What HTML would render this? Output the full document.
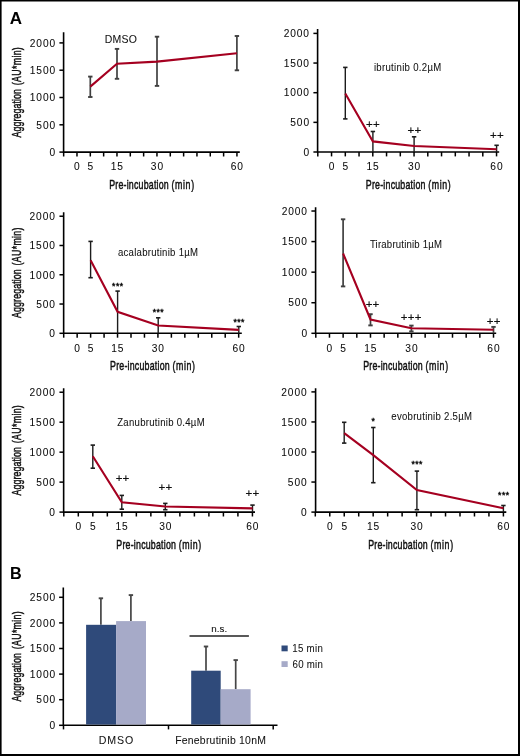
<!DOCTYPE html>
<html><head><meta charset="utf-8"><title>Figure</title>
<style>
html,body{margin:0;padding:0;background:#fff;}
body{width:520px;height:756px;overflow:hidden;}
svg{display:block;font-family:"Liberation Sans",sans-serif;}
text{filter:grayscale(1);}
</style></head><body>
<svg width="520" height="756" viewBox="0 0 520 756">
<rect x="0" y="0" width="520" height="756" fill="#fff"/>
<path d="M63.6 32.2V152.1H239.8" fill="none" stroke="#000" stroke-width="1.6"/>
<line x1="59.4" y1="152.1" x2="63.6" y2="152.1" stroke="#000" stroke-width="1.5"/>
<text x="49.5" y="155.85" font-size="10.2" letter-spacing="0.9" fill="#0a0a0a" stroke="#0a0a0a" stroke-width="0.06">0</text>
<line x1="59.4" y1="124.8" x2="63.6" y2="124.8" stroke="#000" stroke-width="1.5"/>
<text x="36.37" y="128.55" font-size="10.2" letter-spacing="0.9" fill="#0a0a0a" stroke="#0a0a0a" stroke-width="0.06">500</text>
<line x1="59.4" y1="97.5" x2="63.6" y2="97.5" stroke="#000" stroke-width="1.5"/>
<text x="29.76" y="101.25" font-size="10.2" letter-spacing="0.9" fill="#0a0a0a" stroke="#0a0a0a" stroke-width="0.06">1000</text>
<line x1="59.4" y1="70.2" x2="63.6" y2="70.2" stroke="#000" stroke-width="1.5"/>
<text x="29.76" y="73.95" font-size="10.2" letter-spacing="0.9" fill="#0a0a0a" stroke="#0a0a0a" stroke-width="0.06">1500</text>
<line x1="59.4" y1="42.9" x2="63.6" y2="42.9" stroke="#000" stroke-width="1.5"/>
<text x="29.76" y="46.65" font-size="10.2" letter-spacing="0.9" fill="#0a0a0a" stroke="#0a0a0a" stroke-width="0.06">2000</text>
<line x1="63.65" y1="152.1" x2="63.65" y2="156.5" stroke="#000" stroke-width="1.5"/>
<line x1="76.98" y1="152.1" x2="76.98" y2="156.5" stroke="#000" stroke-width="1.5"/>
<line x1="90.31" y1="152.1" x2="90.31" y2="156.5" stroke="#000" stroke-width="1.5"/>
<line x1="103.64" y1="152.1" x2="103.64" y2="156.5" stroke="#000" stroke-width="1.5"/>
<line x1="116.97" y1="152.1" x2="116.97" y2="156.5" stroke="#000" stroke-width="1.5"/>
<line x1="130.3" y1="152.1" x2="130.3" y2="156.5" stroke="#000" stroke-width="1.5"/>
<line x1="143.63" y1="152.1" x2="143.63" y2="156.5" stroke="#000" stroke-width="1.5"/>
<line x1="156.96" y1="152.1" x2="156.96" y2="156.5" stroke="#000" stroke-width="1.5"/>
<line x1="170.29" y1="152.1" x2="170.29" y2="156.5" stroke="#000" stroke-width="1.5"/>
<line x1="183.62" y1="152.1" x2="183.62" y2="156.5" stroke="#000" stroke-width="1.5"/>
<line x1="196.95" y1="152.1" x2="196.95" y2="156.5" stroke="#000" stroke-width="1.5"/>
<line x1="210.28" y1="152.1" x2="210.28" y2="156.5" stroke="#000" stroke-width="1.5"/>
<line x1="223.61" y1="152.1" x2="223.61" y2="156.5" stroke="#000" stroke-width="1.5"/>
<line x1="236.94" y1="152.1" x2="236.94" y2="156.5" stroke="#000" stroke-width="1.5"/>
<text x="74.12" y="170.3" font-size="10.2" letter-spacing="0.9" fill="#0a0a0a" stroke="#0a0a0a" stroke-width="0.06">0</text>
<text x="87.48" y="170.3" font-size="10.2" letter-spacing="0.9" fill="#0a0a0a" stroke="#0a0a0a" stroke-width="0.06">5</text>
<text x="110.68" y="170.3" font-size="10.2" letter-spacing="0.9" fill="#0a0a0a" stroke="#0a0a0a" stroke-width="0.06">15</text>
<text x="150.82" y="170.3" font-size="10.2" letter-spacing="0.9" fill="#0a0a0a" stroke="#0a0a0a" stroke-width="0.06">30</text>
<text x="230.75" y="170.3" font-size="10.2" letter-spacing="0.9" fill="#0a0a0a" stroke="#0a0a0a" stroke-width="0.06">60</text>
<text transform="translate(109.14 188.6) scale(0.6800 1)" font-size="13" letter-spacing="0.3" fill="#111" stroke="#111" stroke-width="0.5">Pre-incubation</text>
<text transform="translate(171.52 188.6) scale(0.6800 1)" font-size="13" letter-spacing="0.9" fill="#111" stroke="#111" stroke-width="0.5">(min)</text>
<line x1="90.3" y1="76.6" x2="90.3" y2="97" stroke="#404040" stroke-width="1.7"/>
<line x1="88.1" y1="76.6" x2="92.5" y2="76.6" stroke="#404040" stroke-width="1.9"/>
<line x1="88.1" y1="97" x2="92.5" y2="97" stroke="#404040" stroke-width="1.9"/>
<line x1="117" y1="48.9" x2="117" y2="78.8" stroke="#404040" stroke-width="1.7"/>
<line x1="114.8" y1="48.9" x2="119.2" y2="48.9" stroke="#404040" stroke-width="1.9"/>
<line x1="114.8" y1="78.8" x2="119.2" y2="78.8" stroke="#404040" stroke-width="1.9"/>
<line x1="157" y1="36.7" x2="157" y2="85.9" stroke="#404040" stroke-width="1.7"/>
<line x1="154.8" y1="36.7" x2="159.2" y2="36.7" stroke="#404040" stroke-width="1.9"/>
<line x1="154.8" y1="85.9" x2="159.2" y2="85.9" stroke="#404040" stroke-width="1.9"/>
<line x1="236.9" y1="36" x2="236.9" y2="70.3" stroke="#404040" stroke-width="1.7"/>
<line x1="234.7" y1="36" x2="239.1" y2="36" stroke="#404040" stroke-width="1.9"/>
<line x1="234.7" y1="70.3" x2="239.1" y2="70.3" stroke="#404040" stroke-width="1.9"/>
<path d="M90.3 86.6 L117 63.8 L157 61.6 L236.9 53.3" fill="none" stroke="#a50020" stroke-width="2.1" stroke-linejoin="miter"/>
<text transform="translate(104.86 42.75) scale(1.0300 1)" font-size="10.2" letter-spacing="0.18" fill="#111" stroke="#111" stroke-width="0.06">DMSO</text>
<text transform="translate(21.1 137.4) rotate(-90) scale(0.6800 1)" font-size="13" fill="#111" stroke="#111" stroke-width="0.5" letter-spacing="0.11">Aggregation</text>
<text transform="translate(21.1 85.13) rotate(-90) scale(0.6800 1)" font-size="13" fill="#111" stroke="#111" stroke-width="0.5" letter-spacing="0.44">(AU*min)</text>
<path d="M317.6 29V152H499.2" fill="none" stroke="#000" stroke-width="1.6"/>
<line x1="313.4" y1="152" x2="317.6" y2="152" stroke="#000" stroke-width="1.5"/>
<text x="303.4" y="155.75" font-size="10.2" letter-spacing="0.9" fill="#0a0a0a" stroke="#0a0a0a" stroke-width="0.06">0</text>
<line x1="313.4" y1="122.35" x2="317.6" y2="122.35" stroke="#000" stroke-width="1.5"/>
<text x="290.27" y="126.1" font-size="10.2" letter-spacing="0.9" fill="#0a0a0a" stroke="#0a0a0a" stroke-width="0.06">500</text>
<line x1="313.4" y1="92.7" x2="317.6" y2="92.7" stroke="#000" stroke-width="1.5"/>
<text x="283.66" y="96.45" font-size="10.2" letter-spacing="0.9" fill="#0a0a0a" stroke="#0a0a0a" stroke-width="0.06">1000</text>
<line x1="313.4" y1="63.05" x2="317.6" y2="63.05" stroke="#000" stroke-width="1.5"/>
<text x="283.66" y="66.8" font-size="10.2" letter-spacing="0.9" fill="#0a0a0a" stroke="#0a0a0a" stroke-width="0.06">1500</text>
<line x1="313.4" y1="33.4" x2="317.6" y2="33.4" stroke="#000" stroke-width="1.5"/>
<text x="283.66" y="37.15" font-size="10.2" letter-spacing="0.9" fill="#0a0a0a" stroke="#0a0a0a" stroke-width="0.06">2000</text>
<line x1="317.8" y1="152" x2="317.8" y2="156.4" stroke="#000" stroke-width="1.5"/>
<line x1="331.55" y1="152" x2="331.55" y2="156.4" stroke="#000" stroke-width="1.5"/>
<line x1="345.3" y1="152" x2="345.3" y2="156.4" stroke="#000" stroke-width="1.5"/>
<line x1="359.05" y1="152" x2="359.05" y2="156.4" stroke="#000" stroke-width="1.5"/>
<line x1="372.8" y1="152" x2="372.8" y2="156.4" stroke="#000" stroke-width="1.5"/>
<line x1="386.55" y1="152" x2="386.55" y2="156.4" stroke="#000" stroke-width="1.5"/>
<line x1="400.3" y1="152" x2="400.3" y2="156.4" stroke="#000" stroke-width="1.5"/>
<line x1="414.05" y1="152" x2="414.05" y2="156.4" stroke="#000" stroke-width="1.5"/>
<line x1="427.8" y1="152" x2="427.8" y2="156.4" stroke="#000" stroke-width="1.5"/>
<line x1="441.55" y1="152" x2="441.55" y2="156.4" stroke="#000" stroke-width="1.5"/>
<line x1="455.3" y1="152" x2="455.3" y2="156.4" stroke="#000" stroke-width="1.5"/>
<line x1="469.05" y1="152" x2="469.05" y2="156.4" stroke="#000" stroke-width="1.5"/>
<line x1="482.8" y1="152" x2="482.8" y2="156.4" stroke="#000" stroke-width="1.5"/>
<line x1="496.55" y1="152" x2="496.55" y2="156.4" stroke="#000" stroke-width="1.5"/>
<text x="328.69" y="170.2" font-size="10.2" letter-spacing="0.9" fill="#0a0a0a" stroke="#0a0a0a" stroke-width="0.06">0</text>
<text x="342.47" y="170.2" font-size="10.2" letter-spacing="0.9" fill="#0a0a0a" stroke="#0a0a0a" stroke-width="0.06">5</text>
<text x="366.51" y="170.2" font-size="10.2" letter-spacing="0.9" fill="#0a0a0a" stroke="#0a0a0a" stroke-width="0.06">15</text>
<text x="407.91" y="170.2" font-size="10.2" letter-spacing="0.9" fill="#0a0a0a" stroke="#0a0a0a" stroke-width="0.06">30</text>
<text x="490.36" y="170.2" font-size="10.2" letter-spacing="0.9" fill="#0a0a0a" stroke="#0a0a0a" stroke-width="0.06">60</text>
<text transform="translate(365.84 188.5) scale(0.6800 1)" font-size="13" letter-spacing="0.3" fill="#111" stroke="#111" stroke-width="0.5">Pre-incubation</text>
<text transform="translate(428.22 188.5) scale(0.6800 1)" font-size="13" letter-spacing="0.9" fill="#111" stroke="#111" stroke-width="0.5">(min)</text>
<line x1="345.3" y1="67.4" x2="345.3" y2="118.9" stroke="#1c1c1c" stroke-width="1.4"/>
<line x1="343.1" y1="67.4" x2="347.5" y2="67.4" stroke="#1c1c1c" stroke-width="1.6"/>
<line x1="343.1" y1="118.9" x2="347.5" y2="118.9" stroke="#1c1c1c" stroke-width="1.6"/>
<line x1="372.9" y1="131.5" x2="372.9" y2="152" stroke="#1c1c1c" stroke-width="1.4"/>
<line x1="370.7" y1="131.5" x2="375.1" y2="131.5" stroke="#1c1c1c" stroke-width="1.6"/>
<line x1="414.1" y1="136.8" x2="414.1" y2="152" stroke="#1c1c1c" stroke-width="1.4"/>
<line x1="411.9" y1="136.8" x2="416.3" y2="136.8" stroke="#1c1c1c" stroke-width="1.6"/>
<line x1="496.6" y1="145.3" x2="496.6" y2="152" stroke="#1c1c1c" stroke-width="1.4"/>
<line x1="494.4" y1="145.3" x2="498.8" y2="145.3" stroke="#1c1c1c" stroke-width="1.6"/>
<path d="M345.3 93.4 L372.9 141.4 L414.1 146 L496.6 149.3" fill="none" stroke="#a50020" stroke-width="2.1" stroke-linejoin="miter"/>
<text transform="translate(373.88 71.25) scale(0.9400 1)" font-size="10.2" letter-spacing="0.34" fill="#111" stroke="#111" stroke-width="0.06">ibrutinib 0.2µM</text>
<text x="366.03" y="127.95" font-size="11.5" letter-spacing="0.28" fill="#111" stroke="#111" stroke-width="0.2">++</text>
<text x="407.53" y="134.45" font-size="11.5" letter-spacing="0.28" fill="#111" stroke="#111" stroke-width="0.2">++</text>
<text x="490.03" y="139.05" font-size="11.5" letter-spacing="0.28" fill="#111" stroke="#111" stroke-width="0.2">++</text>
<path d="M63.65 212.2V333.3H241.8" fill="none" stroke="#000" stroke-width="1.6"/>
<line x1="59.45" y1="333.3" x2="63.65" y2="333.3" stroke="#000" stroke-width="1.5"/>
<text x="49.3" y="337.05" font-size="10.2" letter-spacing="0.9" fill="#0a0a0a" stroke="#0a0a0a" stroke-width="0.06">0</text>
<line x1="59.45" y1="304.03" x2="63.65" y2="304.03" stroke="#000" stroke-width="1.5"/>
<text x="36.17" y="307.78" font-size="10.2" letter-spacing="0.9" fill="#0a0a0a" stroke="#0a0a0a" stroke-width="0.06">500</text>
<line x1="59.45" y1="274.76" x2="63.65" y2="274.76" stroke="#000" stroke-width="1.5"/>
<text x="29.56" y="278.51" font-size="10.2" letter-spacing="0.9" fill="#0a0a0a" stroke="#0a0a0a" stroke-width="0.06">1000</text>
<line x1="59.45" y1="245.49" x2="63.65" y2="245.49" stroke="#000" stroke-width="1.5"/>
<text x="29.56" y="249.24" font-size="10.2" letter-spacing="0.9" fill="#0a0a0a" stroke="#0a0a0a" stroke-width="0.06">1500</text>
<line x1="59.45" y1="216.22" x2="63.65" y2="216.22" stroke="#000" stroke-width="1.5"/>
<text x="29.56" y="219.97" font-size="10.2" letter-spacing="0.9" fill="#0a0a0a" stroke="#0a0a0a" stroke-width="0.06">2000</text>
<line x1="63.7" y1="333.3" x2="63.7" y2="337.7" stroke="#000" stroke-width="1.5"/>
<line x1="77.16" y1="333.3" x2="77.16" y2="337.7" stroke="#000" stroke-width="1.5"/>
<line x1="90.62" y1="333.3" x2="90.62" y2="337.7" stroke="#000" stroke-width="1.5"/>
<line x1="104.08" y1="333.3" x2="104.08" y2="337.7" stroke="#000" stroke-width="1.5"/>
<line x1="117.54" y1="333.3" x2="117.54" y2="337.7" stroke="#000" stroke-width="1.5"/>
<line x1="131" y1="333.3" x2="131" y2="337.7" stroke="#000" stroke-width="1.5"/>
<line x1="144.46" y1="333.3" x2="144.46" y2="337.7" stroke="#000" stroke-width="1.5"/>
<line x1="157.92" y1="333.3" x2="157.92" y2="337.7" stroke="#000" stroke-width="1.5"/>
<line x1="171.38" y1="333.3" x2="171.38" y2="337.7" stroke="#000" stroke-width="1.5"/>
<line x1="184.84" y1="333.3" x2="184.84" y2="337.7" stroke="#000" stroke-width="1.5"/>
<line x1="198.3" y1="333.3" x2="198.3" y2="337.7" stroke="#000" stroke-width="1.5"/>
<line x1="211.76" y1="333.3" x2="211.76" y2="337.7" stroke="#000" stroke-width="1.5"/>
<line x1="225.22" y1="333.3" x2="225.22" y2="337.7" stroke="#000" stroke-width="1.5"/>
<line x1="238.68" y1="333.3" x2="238.68" y2="337.7" stroke="#000" stroke-width="1.5"/>
<text x="74.3" y="351.5" font-size="10.2" letter-spacing="0.9" fill="#0a0a0a" stroke="#0a0a0a" stroke-width="0.06">0</text>
<text x="87.79" y="351.5" font-size="10.2" letter-spacing="0.9" fill="#0a0a0a" stroke="#0a0a0a" stroke-width="0.06">5</text>
<text x="111.25" y="351.5" font-size="10.2" letter-spacing="0.9" fill="#0a0a0a" stroke="#0a0a0a" stroke-width="0.06">15</text>
<text x="151.78" y="351.5" font-size="10.2" letter-spacing="0.9" fill="#0a0a0a" stroke="#0a0a0a" stroke-width="0.06">30</text>
<text x="232.49" y="351.5" font-size="10.2" letter-spacing="0.9" fill="#0a0a0a" stroke="#0a0a0a" stroke-width="0.06">60</text>
<text transform="translate(110.04 369.8) scale(0.6800 1)" font-size="13" letter-spacing="0.3" fill="#111" stroke="#111" stroke-width="0.5">Pre-incubation</text>
<text transform="translate(172.42 369.8) scale(0.6800 1)" font-size="13" letter-spacing="0.9" fill="#111" stroke="#111" stroke-width="0.5">(min)</text>
<line x1="90.6" y1="241.4" x2="90.6" y2="277.7" stroke="#1c1c1c" stroke-width="1.4"/>
<line x1="88.4" y1="241.4" x2="92.8" y2="241.4" stroke="#1c1c1c" stroke-width="1.6"/>
<line x1="88.4" y1="277.7" x2="92.8" y2="277.7" stroke="#1c1c1c" stroke-width="1.6"/>
<line x1="117.6" y1="291.1" x2="117.6" y2="333.3" stroke="#1c1c1c" stroke-width="1.4"/>
<line x1="115.4" y1="291.1" x2="119.8" y2="291.1" stroke="#1c1c1c" stroke-width="1.6"/>
<line x1="158.2" y1="317.8" x2="158.2" y2="333.3" stroke="#1c1c1c" stroke-width="1.4"/>
<line x1="156" y1="317.8" x2="160.4" y2="317.8" stroke="#1c1c1c" stroke-width="1.6"/>
<line x1="238.8" y1="326.5" x2="238.8" y2="333.3" stroke="#1c1c1c" stroke-width="1.4"/>
<line x1="236.6" y1="326.5" x2="241" y2="326.5" stroke="#1c1c1c" stroke-width="1.6"/>
<path d="M90.6 260.3 L117.6 311.8 L158.2 325.5 L238.8 329.9" fill="none" stroke="#a50020" stroke-width="2.1" stroke-linejoin="miter"/>
<text transform="translate(117.92 255.85) scale(0.9400 1)" font-size="10.2" letter-spacing="0.29" fill="#111" stroke="#111" stroke-width="0.06">acalabrutinib 1µM</text>
<text x="112.12" y="288.78" font-size="8.6" letter-spacing="0.45" fill="#111" stroke="#111" stroke-width="0.45">***</text>
<text x="152.67" y="315.28" font-size="8.6" letter-spacing="0.45" fill="#111" stroke="#111" stroke-width="0.45">***</text>
<text x="233.42" y="324.68" font-size="8.6" letter-spacing="0.45" fill="#111" stroke="#111" stroke-width="0.45">***</text>
<text transform="translate(21.1 317.9) rotate(-90) scale(0.6800 1)" font-size="13" fill="#111" stroke="#111" stroke-width="0.5" letter-spacing="0.14">Aggregation</text>
<text transform="translate(21.1 265.43) rotate(-90) scale(0.6800 1)" font-size="13" fill="#111" stroke="#111" stroke-width="0.5" letter-spacing="0.44">(AU*min)</text>
<path d="M315.6 207.2V333.3H496.2" fill="none" stroke="#000" stroke-width="1.6"/>
<line x1="311.4" y1="333.3" x2="315.6" y2="333.3" stroke="#000" stroke-width="1.5"/>
<text x="301.4" y="337.05" font-size="10.2" letter-spacing="0.9" fill="#0a0a0a" stroke="#0a0a0a" stroke-width="0.06">0</text>
<line x1="311.4" y1="302.73" x2="315.6" y2="302.73" stroke="#000" stroke-width="1.5"/>
<text x="288.27" y="306.48" font-size="10.2" letter-spacing="0.9" fill="#0a0a0a" stroke="#0a0a0a" stroke-width="0.06">500</text>
<line x1="311.4" y1="272.16" x2="315.6" y2="272.16" stroke="#000" stroke-width="1.5"/>
<text x="281.66" y="275.91" font-size="10.2" letter-spacing="0.9" fill="#0a0a0a" stroke="#0a0a0a" stroke-width="0.06">1000</text>
<line x1="311.4" y1="241.59" x2="315.6" y2="241.59" stroke="#000" stroke-width="1.5"/>
<text x="281.66" y="245.34" font-size="10.2" letter-spacing="0.9" fill="#0a0a0a" stroke="#0a0a0a" stroke-width="0.06">1500</text>
<line x1="311.4" y1="211.02" x2="315.6" y2="211.02" stroke="#000" stroke-width="1.5"/>
<text x="281.66" y="214.77" font-size="10.2" letter-spacing="0.9" fill="#0a0a0a" stroke="#0a0a0a" stroke-width="0.06">2000</text>
<line x1="315.8" y1="333.3" x2="315.8" y2="337.7" stroke="#000" stroke-width="1.5"/>
<line x1="329.47" y1="333.3" x2="329.47" y2="337.7" stroke="#000" stroke-width="1.5"/>
<line x1="343.14" y1="333.3" x2="343.14" y2="337.7" stroke="#000" stroke-width="1.5"/>
<line x1="356.81" y1="333.3" x2="356.81" y2="337.7" stroke="#000" stroke-width="1.5"/>
<line x1="370.48" y1="333.3" x2="370.48" y2="337.7" stroke="#000" stroke-width="1.5"/>
<line x1="384.15" y1="333.3" x2="384.15" y2="337.7" stroke="#000" stroke-width="1.5"/>
<line x1="397.82" y1="333.3" x2="397.82" y2="337.7" stroke="#000" stroke-width="1.5"/>
<line x1="411.49" y1="333.3" x2="411.49" y2="337.7" stroke="#000" stroke-width="1.5"/>
<line x1="425.16" y1="333.3" x2="425.16" y2="337.7" stroke="#000" stroke-width="1.5"/>
<line x1="438.83" y1="333.3" x2="438.83" y2="337.7" stroke="#000" stroke-width="1.5"/>
<line x1="452.5" y1="333.3" x2="452.5" y2="337.7" stroke="#000" stroke-width="1.5"/>
<line x1="466.17" y1="333.3" x2="466.17" y2="337.7" stroke="#000" stroke-width="1.5"/>
<line x1="479.84" y1="333.3" x2="479.84" y2="337.7" stroke="#000" stroke-width="1.5"/>
<line x1="493.51" y1="333.3" x2="493.51" y2="337.7" stroke="#000" stroke-width="1.5"/>
<text x="326.61" y="351.5" font-size="10.2" letter-spacing="0.9" fill="#0a0a0a" stroke="#0a0a0a" stroke-width="0.06">0</text>
<text x="340.31" y="351.5" font-size="10.2" letter-spacing="0.9" fill="#0a0a0a" stroke="#0a0a0a" stroke-width="0.06">5</text>
<text x="364.19" y="351.5" font-size="10.2" letter-spacing="0.9" fill="#0a0a0a" stroke="#0a0a0a" stroke-width="0.06">15</text>
<text x="405.35" y="351.5" font-size="10.2" letter-spacing="0.9" fill="#0a0a0a" stroke="#0a0a0a" stroke-width="0.06">30</text>
<text x="487.32" y="351.5" font-size="10.2" letter-spacing="0.9" fill="#0a0a0a" stroke="#0a0a0a" stroke-width="0.06">60</text>
<text transform="translate(363.14 369.8) scale(0.6800 1)" font-size="13" letter-spacing="0.3" fill="#111" stroke="#111" stroke-width="0.5">Pre-incubation</text>
<text transform="translate(425.52 369.8) scale(0.6800 1)" font-size="13" letter-spacing="0.9" fill="#111" stroke="#111" stroke-width="0.5">(min)</text>
<line x1="343.1" y1="219.3" x2="343.1" y2="286.4" stroke="#404040" stroke-width="1.7"/>
<line x1="340.9" y1="219.3" x2="345.3" y2="219.3" stroke="#404040" stroke-width="1.9"/>
<line x1="340.9" y1="286.4" x2="345.3" y2="286.4" stroke="#404040" stroke-width="1.9"/>
<line x1="370.5" y1="314.2" x2="370.5" y2="325.4" stroke="#404040" stroke-width="1.7"/>
<line x1="368.3" y1="314.2" x2="372.7" y2="314.2" stroke="#404040" stroke-width="1.9"/>
<line x1="368.3" y1="325.4" x2="372.7" y2="325.4" stroke="#404040" stroke-width="1.9"/>
<line x1="411.4" y1="325.6" x2="411.4" y2="331.4" stroke="#404040" stroke-width="1.7"/>
<line x1="409.2" y1="325.6" x2="413.6" y2="325.6" stroke="#404040" stroke-width="1.9"/>
<line x1="409.2" y1="331.4" x2="413.6" y2="331.4" stroke="#404040" stroke-width="1.9"/>
<line x1="493.5" y1="326.9" x2="493.5" y2="333.3" stroke="#404040" stroke-width="1.7"/>
<line x1="491.3" y1="326.9" x2="495.7" y2="326.9" stroke="#404040" stroke-width="1.9"/>
<path d="M343.1 253.5 L370.5 319.5 L411.4 328.3 L493.5 329.8" fill="none" stroke="#a50020" stroke-width="2.1" stroke-linejoin="miter"/>
<text transform="translate(369.91 247.85) scale(0.9400 1)" font-size="10.2" letter-spacing="0.22" fill="#111" stroke="#111" stroke-width="0.06">Tirabrutinib 1µM</text>
<text x="365.63" y="307.85" font-size="11.5" letter-spacing="0.28" fill="#111" stroke="#111" stroke-width="0.2">++</text>
<text x="400.83" y="321.45" font-size="11.5" letter-spacing="0.28" fill="#111" stroke="#111" stroke-width="0.2">+++</text>
<text x="486.73" y="325.35" font-size="11.5" letter-spacing="0.28" fill="#111" stroke="#111" stroke-width="0.2">++</text>
<path d="M63.65 388.3V512.1H255" fill="none" stroke="#000" stroke-width="1.6"/>
<line x1="59.45" y1="512.1" x2="63.65" y2="512.1" stroke="#000" stroke-width="1.5"/>
<text x="49.3" y="515.85" font-size="10.2" letter-spacing="0.9" fill="#0a0a0a" stroke="#0a0a0a" stroke-width="0.06">0</text>
<line x1="59.45" y1="482.13" x2="63.65" y2="482.13" stroke="#000" stroke-width="1.5"/>
<text x="36.17" y="485.88" font-size="10.2" letter-spacing="0.9" fill="#0a0a0a" stroke="#0a0a0a" stroke-width="0.06">500</text>
<line x1="59.45" y1="452.16" x2="63.65" y2="452.16" stroke="#000" stroke-width="1.5"/>
<text x="29.56" y="455.91" font-size="10.2" letter-spacing="0.9" fill="#0a0a0a" stroke="#0a0a0a" stroke-width="0.06">1000</text>
<line x1="59.45" y1="422.19" x2="63.65" y2="422.19" stroke="#000" stroke-width="1.5"/>
<text x="29.56" y="425.94" font-size="10.2" letter-spacing="0.9" fill="#0a0a0a" stroke="#0a0a0a" stroke-width="0.06">1500</text>
<line x1="59.45" y1="392.22" x2="63.65" y2="392.22" stroke="#000" stroke-width="1.5"/>
<text x="29.56" y="395.97" font-size="10.2" letter-spacing="0.9" fill="#0a0a0a" stroke="#0a0a0a" stroke-width="0.06">2000</text>
<line x1="63.8" y1="512.1" x2="63.8" y2="516.5" stroke="#000" stroke-width="1.5"/>
<line x1="78.31" y1="512.1" x2="78.31" y2="516.5" stroke="#000" stroke-width="1.5"/>
<line x1="92.82" y1="512.1" x2="92.82" y2="516.5" stroke="#000" stroke-width="1.5"/>
<line x1="107.33" y1="512.1" x2="107.33" y2="516.5" stroke="#000" stroke-width="1.5"/>
<line x1="121.84" y1="512.1" x2="121.84" y2="516.5" stroke="#000" stroke-width="1.5"/>
<line x1="136.35" y1="512.1" x2="136.35" y2="516.5" stroke="#000" stroke-width="1.5"/>
<line x1="150.86" y1="512.1" x2="150.86" y2="516.5" stroke="#000" stroke-width="1.5"/>
<line x1="165.37" y1="512.1" x2="165.37" y2="516.5" stroke="#000" stroke-width="1.5"/>
<line x1="179.88" y1="512.1" x2="179.88" y2="516.5" stroke="#000" stroke-width="1.5"/>
<line x1="194.39" y1="512.1" x2="194.39" y2="516.5" stroke="#000" stroke-width="1.5"/>
<line x1="208.9" y1="512.1" x2="208.9" y2="516.5" stroke="#000" stroke-width="1.5"/>
<line x1="223.41" y1="512.1" x2="223.41" y2="516.5" stroke="#000" stroke-width="1.5"/>
<line x1="237.92" y1="512.1" x2="237.92" y2="516.5" stroke="#000" stroke-width="1.5"/>
<line x1="252.43" y1="512.1" x2="252.43" y2="516.5" stroke="#000" stroke-width="1.5"/>
<text x="75.45" y="530.3" font-size="10.2" letter-spacing="0.9" fill="#0a0a0a" stroke="#0a0a0a" stroke-width="0.06">0</text>
<text x="89.99" y="530.3" font-size="10.2" letter-spacing="0.9" fill="#0a0a0a" stroke="#0a0a0a" stroke-width="0.06">5</text>
<text x="115.55" y="530.3" font-size="10.2" letter-spacing="0.9" fill="#0a0a0a" stroke="#0a0a0a" stroke-width="0.06">15</text>
<text x="159.23" y="530.3" font-size="10.2" letter-spacing="0.9" fill="#0a0a0a" stroke="#0a0a0a" stroke-width="0.06">30</text>
<text x="246.24" y="530.3" font-size="10.2" letter-spacing="0.9" fill="#0a0a0a" stroke="#0a0a0a" stroke-width="0.06">60</text>
<text transform="translate(116.34 548.6) scale(0.6800 1)" font-size="13" letter-spacing="0.3" fill="#111" stroke="#111" stroke-width="0.5">Pre-incubation</text>
<text transform="translate(178.72 548.6) scale(0.6800 1)" font-size="13" letter-spacing="0.9" fill="#111" stroke="#111" stroke-width="0.5">(min)</text>
<line x1="92.8" y1="445.1" x2="92.8" y2="468.2" stroke="#1c1c1c" stroke-width="1.4"/>
<line x1="90.6" y1="445.1" x2="95" y2="445.1" stroke="#1c1c1c" stroke-width="1.6"/>
<line x1="90.6" y1="468.2" x2="95" y2="468.2" stroke="#1c1c1c" stroke-width="1.6"/>
<line x1="121.8" y1="495.4" x2="121.8" y2="509.2" stroke="#1c1c1c" stroke-width="1.4"/>
<line x1="119.6" y1="495.4" x2="124" y2="495.4" stroke="#1c1c1c" stroke-width="1.6"/>
<line x1="119.6" y1="509.2" x2="124" y2="509.2" stroke="#1c1c1c" stroke-width="1.6"/>
<line x1="165.3" y1="503.4" x2="165.3" y2="509.7" stroke="#1c1c1c" stroke-width="1.4"/>
<line x1="163.1" y1="503.4" x2="167.5" y2="503.4" stroke="#1c1c1c" stroke-width="1.6"/>
<line x1="163.1" y1="509.7" x2="167.5" y2="509.7" stroke="#1c1c1c" stroke-width="1.6"/>
<line x1="252.5" y1="505.1" x2="252.5" y2="512.1" stroke="#1c1c1c" stroke-width="1.4"/>
<line x1="250.3" y1="505.1" x2="254.7" y2="505.1" stroke="#1c1c1c" stroke-width="1.6"/>
<path d="M92.8 456.2 L121.8 502.3 L165.3 506.5 L252.5 508.4" fill="none" stroke="#a50020" stroke-width="2.1" stroke-linejoin="miter"/>
<text transform="translate(117.21 425.65) scale(0.9400 1)" font-size="10.2" letter-spacing="0.3" fill="#111" stroke="#111" stroke-width="0.06">Zanubrutinib 0.4µM</text>
<text x="115.63" y="482.45" font-size="11.5" letter-spacing="0.28" fill="#111" stroke="#111" stroke-width="0.2">++</text>
<text x="158.43" y="491.45" font-size="11.5" letter-spacing="0.28" fill="#111" stroke="#111" stroke-width="0.2">++</text>
<text x="245.53" y="497.45" font-size="11.5" letter-spacing="0.28" fill="#111" stroke="#111" stroke-width="0.2">++</text>
<text transform="translate(21.1 495.6) rotate(-90) scale(0.6800 1)" font-size="13" fill="#111" stroke="#111" stroke-width="0.5" letter-spacing="0.14">Aggregation</text>
<text transform="translate(21.1 443.13) rotate(-90) scale(0.6800 1)" font-size="13" fill="#111" stroke="#111" stroke-width="0.5" letter-spacing="0.44">(AU*min)</text>
<path d="M315.6 388.3V512.1H506.3" fill="none" stroke="#000" stroke-width="1.6"/>
<line x1="311.4" y1="512.1" x2="315.6" y2="512.1" stroke="#000" stroke-width="1.5"/>
<text x="301" y="515.85" font-size="10.2" letter-spacing="0.9" fill="#0a0a0a" stroke="#0a0a0a" stroke-width="0.06">0</text>
<line x1="311.4" y1="482.05" x2="315.6" y2="482.05" stroke="#000" stroke-width="1.5"/>
<text x="287.87" y="485.8" font-size="10.2" letter-spacing="0.9" fill="#0a0a0a" stroke="#0a0a0a" stroke-width="0.06">500</text>
<line x1="311.4" y1="452" x2="315.6" y2="452" stroke="#000" stroke-width="1.5"/>
<text x="281.26" y="455.75" font-size="10.2" letter-spacing="0.9" fill="#0a0a0a" stroke="#0a0a0a" stroke-width="0.06">1000</text>
<line x1="311.4" y1="421.95" x2="315.6" y2="421.95" stroke="#000" stroke-width="1.5"/>
<text x="281.26" y="425.7" font-size="10.2" letter-spacing="0.9" fill="#0a0a0a" stroke="#0a0a0a" stroke-width="0.06">1500</text>
<line x1="311.4" y1="391.9" x2="315.6" y2="391.9" stroke="#000" stroke-width="1.5"/>
<text x="281.26" y="395.65" font-size="10.2" letter-spacing="0.9" fill="#0a0a0a" stroke="#0a0a0a" stroke-width="0.06">2000</text>
<line x1="315.3" y1="512.1" x2="315.3" y2="516.5" stroke="#000" stroke-width="1.5"/>
<line x1="329.77" y1="512.1" x2="329.77" y2="516.5" stroke="#000" stroke-width="1.5"/>
<line x1="344.24" y1="512.1" x2="344.24" y2="516.5" stroke="#000" stroke-width="1.5"/>
<line x1="358.71" y1="512.1" x2="358.71" y2="516.5" stroke="#000" stroke-width="1.5"/>
<line x1="373.18" y1="512.1" x2="373.18" y2="516.5" stroke="#000" stroke-width="1.5"/>
<line x1="387.65" y1="512.1" x2="387.65" y2="516.5" stroke="#000" stroke-width="1.5"/>
<line x1="402.12" y1="512.1" x2="402.12" y2="516.5" stroke="#000" stroke-width="1.5"/>
<line x1="416.59" y1="512.1" x2="416.59" y2="516.5" stroke="#000" stroke-width="1.5"/>
<line x1="431.06" y1="512.1" x2="431.06" y2="516.5" stroke="#000" stroke-width="1.5"/>
<line x1="445.53" y1="512.1" x2="445.53" y2="516.5" stroke="#000" stroke-width="1.5"/>
<line x1="460" y1="512.1" x2="460" y2="516.5" stroke="#000" stroke-width="1.5"/>
<line x1="474.47" y1="512.1" x2="474.47" y2="516.5" stroke="#000" stroke-width="1.5"/>
<line x1="488.94" y1="512.1" x2="488.94" y2="516.5" stroke="#000" stroke-width="1.5"/>
<line x1="503.41" y1="512.1" x2="503.41" y2="516.5" stroke="#000" stroke-width="1.5"/>
<text x="326.91" y="530.3" font-size="10.2" letter-spacing="0.9" fill="#0a0a0a" stroke="#0a0a0a" stroke-width="0.06">0</text>
<text x="341.41" y="530.3" font-size="10.2" letter-spacing="0.9" fill="#0a0a0a" stroke="#0a0a0a" stroke-width="0.06">5</text>
<text x="366.89" y="530.3" font-size="10.2" letter-spacing="0.9" fill="#0a0a0a" stroke="#0a0a0a" stroke-width="0.06">15</text>
<text x="410.45" y="530.3" font-size="10.2" letter-spacing="0.9" fill="#0a0a0a" stroke="#0a0a0a" stroke-width="0.06">30</text>
<text x="497.22" y="530.3" font-size="10.2" letter-spacing="0.9" fill="#0a0a0a" stroke="#0a0a0a" stroke-width="0.06">60</text>
<text transform="translate(368.14 548.6) scale(0.6800 1)" font-size="13" letter-spacing="0.3" fill="#111" stroke="#111" stroke-width="0.5">Pre-incubation</text>
<text transform="translate(430.52 548.6) scale(0.6800 1)" font-size="13" letter-spacing="0.9" fill="#111" stroke="#111" stroke-width="0.5">(min)</text>
<line x1="344.2" y1="422.3" x2="344.2" y2="443.1" stroke="#1c1c1c" stroke-width="1.4"/>
<line x1="342" y1="422.3" x2="346.4" y2="422.3" stroke="#1c1c1c" stroke-width="1.6"/>
<line x1="342" y1="443.1" x2="346.4" y2="443.1" stroke="#1c1c1c" stroke-width="1.6"/>
<line x1="373.3" y1="427.5" x2="373.3" y2="482.7" stroke="#1c1c1c" stroke-width="1.4"/>
<line x1="371.1" y1="427.5" x2="375.5" y2="427.5" stroke="#1c1c1c" stroke-width="1.6"/>
<line x1="371.1" y1="482.7" x2="375.5" y2="482.7" stroke="#1c1c1c" stroke-width="1.6"/>
<line x1="416.9" y1="471.1" x2="416.9" y2="509.7" stroke="#1c1c1c" stroke-width="1.4"/>
<line x1="414.7" y1="471.1" x2="419.1" y2="471.1" stroke="#1c1c1c" stroke-width="1.6"/>
<line x1="414.7" y1="509.7" x2="419.1" y2="509.7" stroke="#1c1c1c" stroke-width="1.6"/>
<line x1="503.4" y1="505.5" x2="503.4" y2="512.1" stroke="#1c1c1c" stroke-width="1.4"/>
<line x1="501.2" y1="505.5" x2="505.6" y2="505.5" stroke="#1c1c1c" stroke-width="1.6"/>
<path d="M344.2 433.1 L373.3 455.1 L416.9 490 L503.4 508.2" fill="none" stroke="#a50020" stroke-width="2.1" stroke-linejoin="miter"/>
<text transform="translate(391.32 419.65) scale(0.9400 1)" font-size="10.2" letter-spacing="0.29" fill="#111" stroke="#111" stroke-width="0.06">evobrutinib 2.5µM</text>
<text x="371.62" y="424.18" font-size="8.6" letter-spacing="0.45" fill="#111" stroke="#111" stroke-width="0.45">*</text>
<text x="411.42" y="467.08" font-size="8.6" letter-spacing="0.45" fill="#111" stroke="#111" stroke-width="0.45">***</text>
<text x="498.12" y="497.78" font-size="8.6" letter-spacing="0.45" fill="#111" stroke="#111" stroke-width="0.45">***</text>
<path d="M63.3 587.6V725.3H277.5" fill="none" stroke="#000" stroke-width="1.6"/>
<line x1="59.1" y1="725.3" x2="63.3" y2="725.3" stroke="#000" stroke-width="1.5"/>
<text x="49.5" y="729.05" font-size="10.2" letter-spacing="0.9" fill="#0a0a0a" stroke="#0a0a0a" stroke-width="0.06">0</text>
<line x1="59.1" y1="699.7" x2="63.3" y2="699.7" stroke="#000" stroke-width="1.5"/>
<text x="36.37" y="703.45" font-size="10.2" letter-spacing="0.9" fill="#0a0a0a" stroke="#0a0a0a" stroke-width="0.06">500</text>
<line x1="59.1" y1="674.1" x2="63.3" y2="674.1" stroke="#000" stroke-width="1.5"/>
<text x="29.76" y="677.85" font-size="10.2" letter-spacing="0.9" fill="#0a0a0a" stroke="#0a0a0a" stroke-width="0.06">1000</text>
<line x1="59.1" y1="648.5" x2="63.3" y2="648.5" stroke="#000" stroke-width="1.5"/>
<text x="29.76" y="652.25" font-size="10.2" letter-spacing="0.9" fill="#0a0a0a" stroke="#0a0a0a" stroke-width="0.06">1500</text>
<line x1="59.1" y1="622.9" x2="63.3" y2="622.9" stroke="#000" stroke-width="1.5"/>
<text x="29.76" y="626.65" font-size="10.2" letter-spacing="0.9" fill="#0a0a0a" stroke="#0a0a0a" stroke-width="0.06">2000</text>
<line x1="59.1" y1="597.3" x2="63.3" y2="597.3" stroke="#000" stroke-width="1.5"/>
<text x="29.76" y="601.05" font-size="10.2" letter-spacing="0.9" fill="#0a0a0a" stroke="#0a0a0a" stroke-width="0.06">2500</text>
<line x1="63.5" y1="725.3" x2="63.5" y2="729.4" stroke="#000" stroke-width="1.5"/>
<line x1="168.5" y1="725.3" x2="168.5" y2="729.4" stroke="#000" stroke-width="1.5"/>
<line x1="273.2" y1="725.3" x2="273.2" y2="729.4" stroke="#000" stroke-width="1.5"/>
<line x1="100.9" y1="598.3" x2="100.9" y2="624.8" stroke="#464646" stroke-width="1.7"/>
<line x1="98.7" y1="598.3" x2="103.1" y2="598.3" stroke="#464646" stroke-width="1.9"/>
<rect x="86.1" y="624.8" width="30" height="99.7" fill="#2f4a7a"/>
<line x1="130.9" y1="595.1" x2="130.9" y2="621.1" stroke="#464646" stroke-width="1.7"/>
<line x1="128.7" y1="595.1" x2="133.1" y2="595.1" stroke="#464646" stroke-width="1.9"/>
<rect x="116.1" y="621.1" width="29.9" height="103.4" fill="#a6aac8"/>
<line x1="206" y1="646.5" x2="206" y2="670.7" stroke="#464646" stroke-width="1.7"/>
<line x1="203.8" y1="646.5" x2="208.2" y2="646.5" stroke="#464646" stroke-width="1.9"/>
<rect x="191.2" y="670.7" width="29.5" height="53.8" fill="#2f4a7a"/>
<line x1="235.7" y1="660.1" x2="235.7" y2="689.2" stroke="#464646" stroke-width="1.7"/>
<line x1="233.5" y1="660.1" x2="237.9" y2="660.1" stroke="#464646" stroke-width="1.9"/>
<rect x="220.7" y="689.2" width="29.9" height="35.3" fill="#a6aac8"/>
<line x1="189.5" y1="635.9" x2="248.9" y2="635.9" stroke="#222" stroke-width="1.5"/>
<text x="211.36" y="632" font-size="9.8" letter-spacing="0.01" fill="#111" stroke="#111" stroke-width="0.08">n.s.</text>
<rect x="281.5" y="645.5" width="6.2" height="5.8" fill="#2f4a7a"/>
<rect x="281.5" y="661.2" width="6.2" height="5.8" fill="#a6aac8"/>
<text transform="translate(292.27 651.8) scale(0.9500 1)" font-size="10.2" letter-spacing="0.31" fill="#111" stroke="#111" stroke-width="0.06">15 min</text>
<text transform="translate(292.52 667.7) scale(0.9500 1)" font-size="10.2" letter-spacing="0.26" fill="#111" stroke="#111" stroke-width="0.06">60 min</text>
<text transform="translate(98.75 743.9) scale(0.9500 1)" font-size="11.2" letter-spacing="0.93" fill="#111" stroke="#111" stroke-width="0.06">DMSO</text>
<text transform="translate(175.16 743.7) scale(0.9500 1)" font-size="11" letter-spacing="0.24" fill="#111" stroke="#111" stroke-width="0.06">Fenebrutinib 10nM</text>
<text transform="translate(21.1 701.6) rotate(-90) scale(0.6800 1)" font-size="13" fill="#111" stroke="#111" stroke-width="0.5" letter-spacing="0.12">Aggregation</text>
<text transform="translate(21.1 649.23) rotate(-90) scale(0.6800 1)" font-size="13" fill="#111" stroke="#111" stroke-width="0.5" letter-spacing="0.44">(AU*min)</text>
<text transform="translate(9.77 23.5) scale(1.0503 1)" font-size="16.2" font-weight="bold" fill="#000">A</text>
<text x="10.05" y="578.6" font-size="16.2" font-weight="bold" fill="#000">B</text>
<rect x="0" y="0" width="520" height="1.5" fill="#000"/>
<rect x="0" y="0" width="1.6" height="756" fill="#000"/>
<rect x="518" y="0" width="2" height="756" fill="#000"/>
<rect x="0" y="754" width="520" height="2" fill="#000"/>
</svg>
</body></html>
